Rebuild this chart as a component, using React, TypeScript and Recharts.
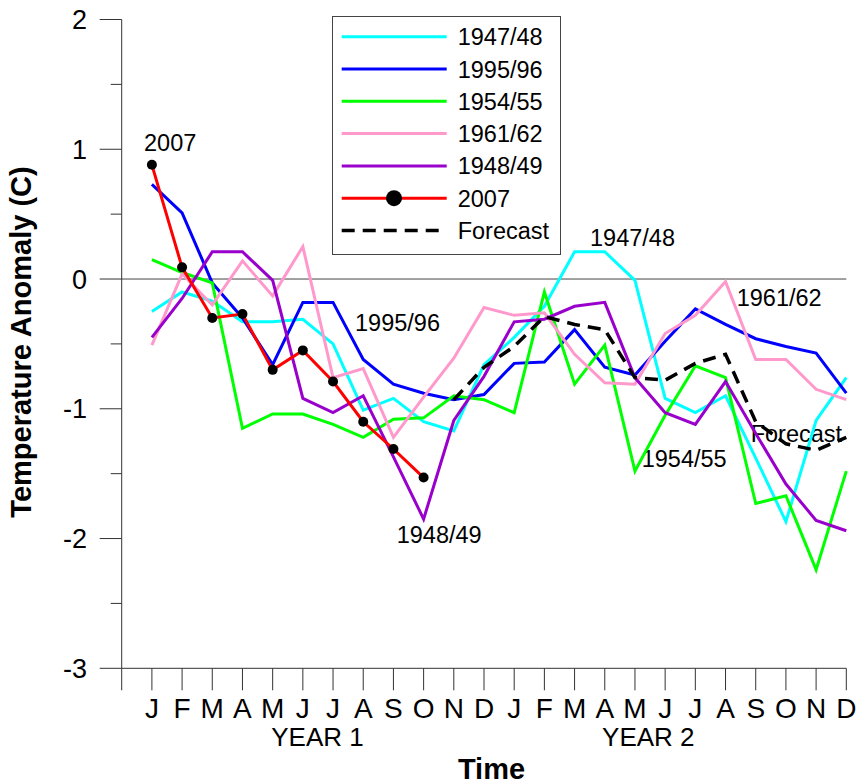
import React from 'react';
import { LineChart, Line, XAxis, YAxis, ReferenceLine, Legend, Customized } from 'recharts';

const months = ['J','F','M','A','M','J','J','A','S','O','N','D','J','F','M','A','M','J','J','A','S','O','N','D'];

const s194748 = [-0.25, -0.10, -0.17, -0.33, -0.33, -0.31, -0.50, -1.01, -0.92, -1.10, -1.17, -0.66, -0.45, -0.21, 0.21, 0.21, -0.01, -0.92, -1.03, -0.90, -1.38, -1.87, -1.09, -0.76];
const s199596 = [0.73, 0.51, -0.03, -0.30, -0.66, -0.18, -0.18, -0.62, -0.81, -0.88, -0.93, -0.89, -0.65, -0.64, -0.39, -0.68, -0.74, -0.48, -0.23, -0.35, -0.46, -0.52, -0.57, -0.88];
const s195455 = [0.15, 0.05, -0.03, -1.15, -1.04, -1.04, -1.12, -1.22, -1.08, -1.07, -0.90, -0.93, -1.03, -0.10, -0.81, -0.51, -1.48, -1.05, -0.67, -0.76, -1.73, -1.67, -2.24, -1.48];
const s196162 = [-0.51, 0.04, -0.20, 0.14, -0.13, 0.25, -0.76, -0.69, -1.22, -0.91, -0.61, -0.22, -0.28, -0.26, -0.58, -0.80, -0.81, -0.42, -0.28, -0.02, -0.62, -0.62, -0.85, -0.93];
const s194849 = [-0.45, -0.15, 0.21, 0.21, -0.01, -0.92, -1.03, -0.90, -1.37, -1.85, -1.09, -0.75, -0.33, -0.31, -0.21, -0.18, -0.76, -1.03, -1.12, -0.79, -1.19, -1.58, -1.86, -1.94];
const s2007 = [0.88, 0.09, -0.30, -0.27, -0.70, -0.55, -0.79, -1.10, -1.31, -1.53, null, null, null, null, null, null, null, null, null, null, null, null, null, null];
const sForecast = [null, null, null, null, null, null, null, null, null, null, -0.93, -0.68, -0.52, -0.29, -0.35, -0.39, -0.76, -0.78, -0.65, -0.58, -1.10, -1.27, -1.32, -1.22];

const xTicks = [0, 1, 2, 3, 4, 5, 6, 7, 8, 9, 10, 11, 12, 13, 14, 15, 16, 17, 18, 19, 20, 21, 22, 23, 24];
const yTicks = [-3, -2.5, -2, -1.5, -1, -0.5, 0, 0.5, 1, 1.5, 2];

const seriesKeys = ['a', 'b', 'c', 'd', 'e', 'f', 'g'];
const seriesNames = ['1947/48', '1995/96', '1954/55', '1961/62', '1948/49', '2007', 'Forecast'];
const seriesColors = ['#00FFFF', '#0000FF', '#00FF00', '#FF99CC', '#9900CC', '#FF0000', '#000000'];
const seriesValues = [s194748, s199596, s195455, s196162, s194849, s2007, sForecast];

const data = months.map((m, i) => {
  const row: any = { x: i + 1, month: m };
  seriesKeys.forEach((k, j) => { row[k] = seriesValues[j][i]; });
  return row;
});

const FONT = '"Liberation Sans", Arial, Helvetica, sans-serif';

const XTick = (props: any) => {
  const { x, y, payload } = props;
  const v = payload.value;
  const label = v >= 1 ? months[v - 1] : '';
  return (
    <g>
      <line x1={x} y1={y} x2={x} y2={y + 22} stroke="#333" strokeWidth={1} />
      {label ? (
        <text x={x} y={y + 50} textAnchor="middle" fontSize={28} fontFamily={FONT} fill="#000">{label}</text>
      ) : null}
    </g>
  );
};

const YTick = (props: any) => {
  const { x, y, payload } = props;
  const v = payload.value;
  const major = Number.isInteger(v);
  return (
    <g>
      <line x1={x - (major ? 22 : 11)} y1={y} x2={x} y2={y} stroke="#333" strokeWidth={1} />
      {major ? (
        <text x={87} y={y + 9.5} textAnchor="end" fontSize={27} fontFamily={FONT} fill="#000">{String(v)}</text>
      ) : null}
    </g>
  );
};

const LegendBox = () => (
  <svg width={229} height={239} style={{ display: 'block' }}>
    <rect x={0.5} y={0.5} width={228} height={238} fill="#fff" stroke="#444" strokeWidth={1} />
    {seriesNames.map((n, i) => {
      const ry = 20.7 + 32.3 * i;
      const isF = n === 'Forecast';
      return (
        <g key={n}>
          <line x1={9.7} y1={ry} x2={114.7} y2={ry} stroke={seriesColors[i]} strokeWidth={isF ? 3.5 : 3}
            strokeDasharray={isF ? '13 8' : undefined} />
          {n === '2007' ? <circle cx={62} cy={ry} r={8} fill="#000" /> : null}
          <text x={125.7} y={ry + 8.5} fontSize={23.5} fontFamily={FONT} fill="#000">{n}</text>
        </g>
      );
    })}
  </svg>
);

const annotations = [
  { t: '2007', x: 144, y: 150.7 },
  { t: '1995/96', x: 355, y: 330.7 },
  { t: '1948/49', x: 396.7, y: 543.3 },
  { t: '1947/48', x: 590, y: 246 },
  { t: '1961/62', x: 736.7, y: 306 },
  { t: '1954/55', x: 641.7, y: 466.7 },
  { t: 'Forecast', x: 750.7, y: 441.7 },
];

const Texts = () => (
  <g fontFamily={FONT} fill="#000">
    {annotations.map((a) => (
      <text key={a.t + a.x} x={a.x} y={a.y} fontSize={23.5}>{a.t}</text>
    ))}
    <text x={317.5} y={745.7} fontSize={26} textAnchor="middle">YEAR 1</text>
    <text x={648.3} y={745.7} fontSize={26} textAnchor="middle">YEAR 2</text>
    <text x={491.5} y={779} fontSize={29} fontWeight="bold" textAnchor="middle">Time</text>
    <text x={31} y={342} fontSize={29} fontWeight="bold" textAnchor="middle" transform="rotate(-90 31 342)">Temperature Anomaly (C)</text>
  </g>
);

export default function App() {
  return (
    <div style={{ position: 'absolute', left: 0, top: 0 }}>
      <LineChart width={856} height={784} data={data} margin={{ top: 19.5, right: 9.7, bottom: 55.7, left: 0 }}>
        <XAxis dataKey="x" type="number" domain={[0, 24]} ticks={xTicks} interval={0} height={60}
          tickSize={0} tickMargin={0} tickLine={false} axisLine={{ stroke: '#333', strokeWidth: 1 }} tick={<XTick />} />
        <YAxis type="number" domain={[-3, 2]} ticks={yTicks} interval={0} width={121.7}
          tickSize={0} tickMargin={0} tickLine={false} axisLine={{ stroke: '#333', strokeWidth: 1 }} tick={<YTick />} />
        <ReferenceLine y={0} stroke="#444" strokeWidth={1} />
        {seriesKeys.map((k, j) => {
          const isF = seriesNames[j] === 'Forecast';
          const is07 = seriesNames[j] === '2007';
          return (
            <Line key={k} type="linear" dataKey={k} name={seriesNames[j]} stroke={seriesColors[j]}
              strokeWidth={isF ? 3.5 : 3} strokeDasharray={isF ? '13 8' : undefined}
              dot={is07 ? { r: 5, fill: '#000', stroke: '#000', strokeWidth: 0 } : false}
              activeDot={false} isAnimationActive={false} connectNulls={false} />
          );
        })}
        <Legend layout="horizontal" verticalAlign="middle" align="center" content={<LegendBox />}
          wrapperStyle={{ position: 'absolute', left: 332, top: 16, width: 229, height: 239, margin: 0, padding: 0 }} />
        <Customized component={Texts} />
      </LineChart>
    </div>
  );
}
